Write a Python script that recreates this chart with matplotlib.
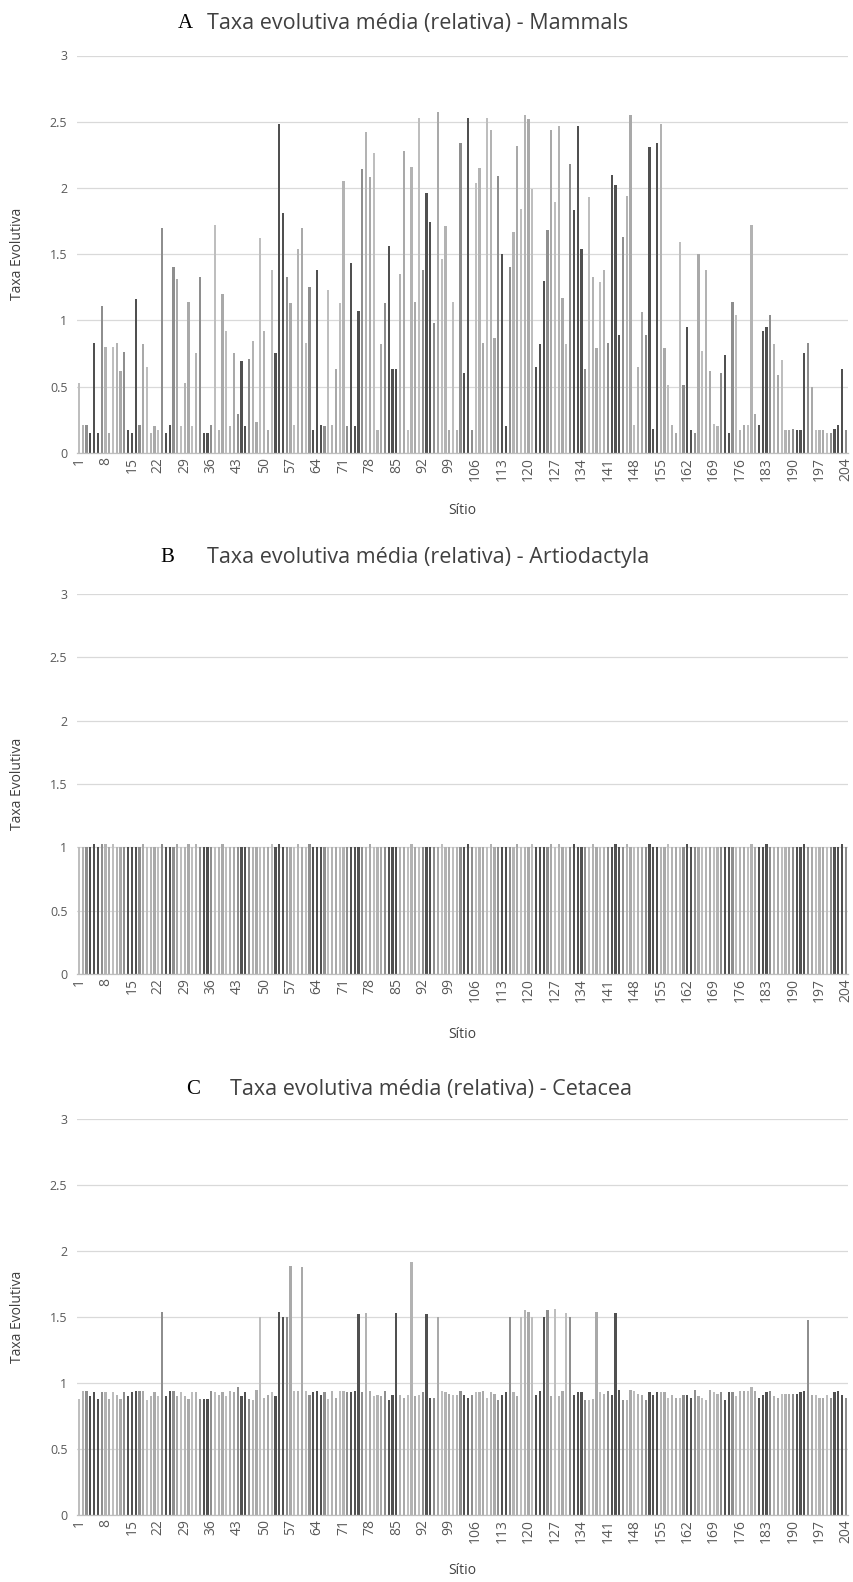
import matplotlib
matplotlib.use("Agg")
import matplotlib.pyplot as plt
import numpy as np

plt.rcParams['font.family'] = ['Open Sans', 'DejaVu Sans']

sites = list(range(1, 205))
tick_sites = list(range(1, 205, 7))

titles = ["Taxa evolutiva média (relativa) - Mammals",
          "Taxa evolutiva média (relativa) - Artiodactyla",
          "Taxa evolutiva média (relativa) - Cetacea"]
letters = ["A", "B", "C"]
ylabel = "Taxa Evolutiva"
xlabel = "Sítio"
yticks = [0, 0.5, 1, 1.5, 2, 2.5, 3]
ytick_labels = ["0", "0.5", "1", "1.5", "2", "2.5", "3"]

mammals = [
    0.53, 0.21, 0.21, 0.15, 0.83, 0.15, 1.11, 0.80, 0.15, 0.80,
    0.83, 0.62, 0.76, 0.17, 0.15, 1.16, 0.21, 0.82, 0.65, 0.15,
    0.20, 0.17, 1.70, 0.15, 0.21, 1.40, 1.31, 0.20, 0.53, 1.14,
    0.20, 0.75, 1.33, 0.15, 0.15, 0.21, 1.72, 0.17, 1.20, 0.92,
    0.20, 0.75, 0.29, 0.69, 0.20, 0.71, 0.84, 0.23, 1.62, 0.92,
    0.17, 1.38, 0.75, 2.48, 1.81, 1.33, 1.13, 0.21, 1.54, 1.70,
    0.83, 1.25, 0.17, 1.38, 0.21, 0.20, 1.23, 0.21, 0.63, 1.13,
    2.05, 0.20, 1.43, 0.20, 1.07, 2.14, 2.42, 2.08, 2.26, 0.17,
    0.82, 1.13, 1.56, 0.63, 0.63, 1.35, 2.28, 0.17, 2.16, 1.14,
    2.53, 1.38, 1.96, 1.74, 0.98, 2.57, 1.46, 1.71, 0.17, 1.14,
    0.17, 2.34, 0.60, 2.53, 0.17, 2.04, 2.15, 0.83, 2.53, 2.44,
    0.87, 2.09, 1.50, 0.20, 1.40, 1.67, 2.32, 1.84, 2.55, 2.52,
    1.99, 0.65, 0.82, 1.30, 1.68, 2.44, 1.89, 2.47, 1.17, 0.82,
    2.18, 1.83, 2.47, 1.54, 0.63, 1.93, 1.33, 0.79, 1.29, 1.38,
    0.83, 2.10, 2.02, 0.89, 1.63, 1.94, 2.55, 0.21, 0.65, 1.06,
    0.89, 2.31, 0.18, 2.34, 2.48, 0.79, 0.51, 0.21, 0.15, 1.59,
    0.51, 0.95, 0.17, 0.15, 1.50, 0.77, 1.38, 0.62, 0.22, 0.20,
    0.60, 0.74, 0.15, 1.14, 1.04, 0.17, 0.21, 0.21, 1.72, 0.29,
    0.21, 0.92, 0.95, 1.04, 0.82, 0.59, 0.70, 0.17, 0.17, 0.18,
    0.17, 0.17, 0.75, 0.83, 0.50, 0.17, 0.17, 0.17, 0.15, 0.15,
    0.18, 0.21, 0.63, 0.17,
]

artiodactyla = [
    1, 1, 1, 1, 1.03, 1, 1.03, 1.03, 1, 1.03,
    1, 1, 1, 1, 1, 1, 1, 1.03, 1, 1,
    1, 1, 1.03, 1, 1, 1, 1.03, 1, 1, 1.03,
    1, 1.03, 1, 1, 1, 1, 1, 1, 1.03, 1,
    1, 1, 1, 1, 1, 1, 1, 1, 1, 1,
    1, 1.03, 1, 1.03, 1, 1, 1, 1, 1.03, 1,
    1, 1.03, 1, 1, 1, 1, 1, 1, 1, 1,
    1, 1, 1, 1, 1, 1, 1, 1.03, 1, 1,
    1, 1, 1, 1, 1, 1, 1, 1, 1.03, 1,
    1, 1, 1, 1, 1, 1, 1.03, 1, 1, 1,
    1, 1, 1, 1.03, 1, 1, 1, 1, 1, 1.03,
    1, 1, 1, 1, 1, 1, 1.03, 1, 1, 1,
    1.03, 1, 1, 1, 1, 1.03, 1, 1.03, 1, 1,
    1, 1.03, 1, 1, 1, 1, 1.03, 1, 1, 1,
    1, 1, 1.03, 1, 1, 1.03, 1, 1, 1, 1,
    1, 1.03, 1, 1, 1, 1, 1.03, 1, 1, 1,
    1, 1.03, 1, 1, 1, 1, 1, 1, 1, 1,
    1, 1, 1, 1, 1, 1, 1, 1, 1.03, 1,
    1, 1, 1.03, 1, 1, 1, 1, 1, 1, 1,
    1, 1, 1.03, 1, 1, 1, 1, 1, 1, 1,
    1, 1, 1.03, 1,
]

cetacea = [
    0.88, 0.94, 0.94, 0.90, 0.93, 0.88, 0.93, 0.93, 0.88, 0.93,
    0.91, 0.88, 0.93, 0.90, 0.93, 0.94, 0.94, 0.94, 0.87, 0.90,
    0.93, 0.90, 1.54, 0.90, 0.94, 0.94, 0.90, 0.93, 0.90, 0.88,
    0.93, 0.93, 0.88, 0.88, 0.88, 0.94, 0.93, 0.91, 0.93, 0.90,
    0.94, 0.93, 0.97, 0.90, 0.93, 0.88, 0.87, 0.95, 1.50, 0.89,
    0.91, 0.93, 0.90, 1.54, 1.50, 1.50, 1.89, 0.94, 0.94, 1.88,
    0.94, 0.91, 0.93, 0.94, 0.91, 0.93, 0.88, 0.94, 0.89, 0.94,
    0.94, 0.93, 0.93, 0.94, 1.52, 0.93, 1.53, 0.94, 0.90, 0.91,
    0.90, 0.94, 0.87, 0.91, 1.53, 0.91, 0.89, 0.91, 1.92, 0.90,
    0.91, 0.93, 1.52, 0.89, 0.89, 1.50, 0.94, 0.93, 0.92, 0.91,
    0.91, 0.94, 0.91, 0.89, 0.91, 0.93, 0.93, 0.94, 0.89, 0.93,
    0.92, 0.87, 0.91, 0.93, 1.50, 0.93, 0.90, 1.50, 1.55, 1.54,
    1.50, 0.91, 0.94, 1.50, 1.55, 0.90, 1.56, 0.90, 0.94, 1.53,
    1.50, 0.91, 0.93, 0.93, 0.87, 0.87, 0.88, 1.54, 0.93, 0.92,
    0.94, 0.91, 1.53, 0.95, 0.87, 0.87, 0.95, 0.94, 0.92, 0.91,
    0.87, 0.93, 0.91, 0.93, 0.93, 0.93, 0.89, 0.91, 0.89, 0.89,
    0.91, 0.91, 0.89, 0.95, 0.90, 0.89, 0.87, 0.95, 0.93, 0.92,
    0.93, 0.87, 0.93, 0.93, 0.90, 0.94, 0.94, 0.94, 0.97, 0.94,
    0.89, 0.91, 0.93, 0.94, 0.90, 0.89, 0.92, 0.92, 0.92, 0.92,
    0.92, 0.93, 0.94, 1.48, 0.91, 0.91, 0.89, 0.89, 0.91, 0.89,
    0.93, 0.94, 0.91, 0.89,
]

series = [mammals, artiodactyla, cetacea]

W, H = 854, 1582
fig = plt.figure(figsize=(W / 100, H / 100), dpi=100)


def bar_color(i):
    # grayscale of the original per-point colours: a dark group roughly every 10 bars
    period = 9.85
    phase = ((i - 5) / period) % 1.0
    d = min(phase, 1 - phase) * period
    if d < 1.3:
        return '#505050'
    if d < 2.2:
        return '#8e8e8e'
    return ['#a9a9a9', '#bebebe', '#b3b3b3'][i % 3]


colors = [bar_color(i) for i in sites]

# panel layout in pixels: (top of axis = value 3, baseline = value 0)
panels = [(55.5, 452.7), (594.0, 974.0), (1119.0, 1515.0)]
left_px, right_px = 77.1, 847.8
title_y = [24, 558, 1090]
letter_x = [178, 160, 186]
title_x = [207, 207, 230]
xlabel_y = [510, 1034, 1571]

for k, (top, bot) in enumerate(panels):
    ax = fig.add_axes([left_px / W, 1 - bot / H, (right_px - left_px) / W, (bot - top) / H])
    ax.bar(sites, series[k], width=0.58, color=colors, linewidth=0, zorder=2)
    ax.set_xlim(0.5, 204.5)
    ax.set_ylim(0, 3)
    ax.set_yticks(yticks)
    ax.set_yticklabels(ytick_labels, fontsize=9, color='#595959')
    ax.set_xticks(tick_sites)
    ax.set_xticklabels([str(t) for t in tick_sites], rotation=90, fontsize=10, color='#595959')
    ax.tick_params(axis='both', length=0, pad=3)
    ax.tick_params(axis='y', pad=7)
    ax.grid(axis='y', color='#d9d9d9', linewidth=0.9, zorder=0)
    for s in ['top', 'right', 'left']:
        ax.spines[s].set_visible(False)
    ax.spines['bottom'].set_color('#bfbfbf')
    ax.spines['bottom'].set_linewidth(0.9)
    ax.set_axisbelow(True)

    yc = (top + bot) / 2
    fig.text(18 / W, 1 - yc / H, ylabel, rotation=90, ha='center', va='center',
             fontsize=10, color='#404040')
    fig.text(462 / W, 1 - xlabel_y[k] / H, xlabel, ha='center', va='center',
             fontsize=10, color='#404040')
    fig.text(letter_x[k] / W, 1 - title_y[k] / H, letters[k], ha='left', va='center',
             fontsize=15, color='black', family=['Liberation Serif', 'DejaVu Serif'])
    fig.text(title_x[k] / W, 1 - title_y[k] / H, titles[k], ha='left', va='center',
             fontsize=15.5, color='#404040')

fig.savefig("out.png", dpi=100, facecolor='white')
